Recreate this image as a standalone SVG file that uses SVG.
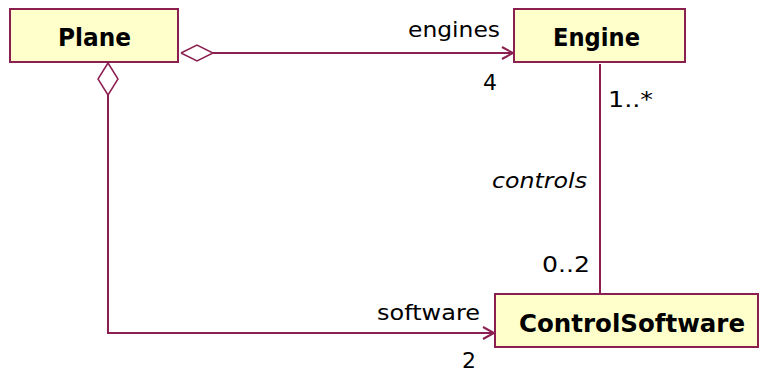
<svg xmlns="http://www.w3.org/2000/svg" width="762" height="373" viewBox="0 0 762 373">
<style>
.box{fill:#ffffcc;stroke:#8b2050;stroke-width:2}
.name{font-family:"DejaVu Sans","Liberation Sans",sans-serif;font-weight:bold;font-size:25px;fill:#000}
.lbl{font-family:"DejaVu Sans","Liberation Sans",sans-serif;font-size:22px;fill:#000}
.ln{fill:none;stroke:#8b2050;stroke-width:2}
.dia{fill:#fff;stroke:#8b2050;stroke-width:1.5}
</style>
<g id="connectors">
<polyline class="ln" points="213,53 513,53"/>
<polyline class="dia" points="181,53 197,45 213,53 197,61 181,53"/>
<polyline class="ln" points="502,47 513,53 502,59"/>
<polyline class="ln" points="108,95 108,333 494,333"/>
<polyline class="dia" points="108,63 98,79 108,95 118,79 108,63"/>
<polyline class="ln" points="483,327 494,333 483,339"/>
<line class="ln" x1="600" y1="64" x2="600" y2="294"/>
<text class="lbl" x="408" y="37" textLength="92" lengthAdjust="spacingAndGlyphs">engines</text>
<text class="lbl" x="483" y="90">4</text>
<text class="lbl" x="608" y="107" textLength="45" lengthAdjust="spacingAndGlyphs">1..*</text>
<text class="lbl" x="492" y="188" font-style="italic" textLength="95" lengthAdjust="spacingAndGlyphs">controls</text>
<text class="lbl" x="542" y="272" textLength="48" lengthAdjust="spacingAndGlyphs">0..2</text>
<text class="lbl" x="377" y="320" textLength="103" lengthAdjust="spacingAndGlyphs">software</text>
<text class="lbl" x="462" y="368">2</text>
</g>
<g id="Plane">
<rect class="box" x="10" y="9" width="168" height="53"/>
<text class="name" x="58" y="46" textLength="73" lengthAdjust="spacingAndGlyphs">Plane</text>
</g>
<g id="Engine">
<rect class="box" x="514" y="9" width="171" height="53"/>
<text class="name" x="553" y="46" textLength="87" lengthAdjust="spacingAndGlyphs">Engine</text>
</g>
<g id="ControlSoftware">
<rect class="box" x="495" y="294" width="263" height="53"/>
<text class="name" x="519" y="332" textLength="226" lengthAdjust="spacingAndGlyphs">ControlSoftware</text>
</g>
</svg>
